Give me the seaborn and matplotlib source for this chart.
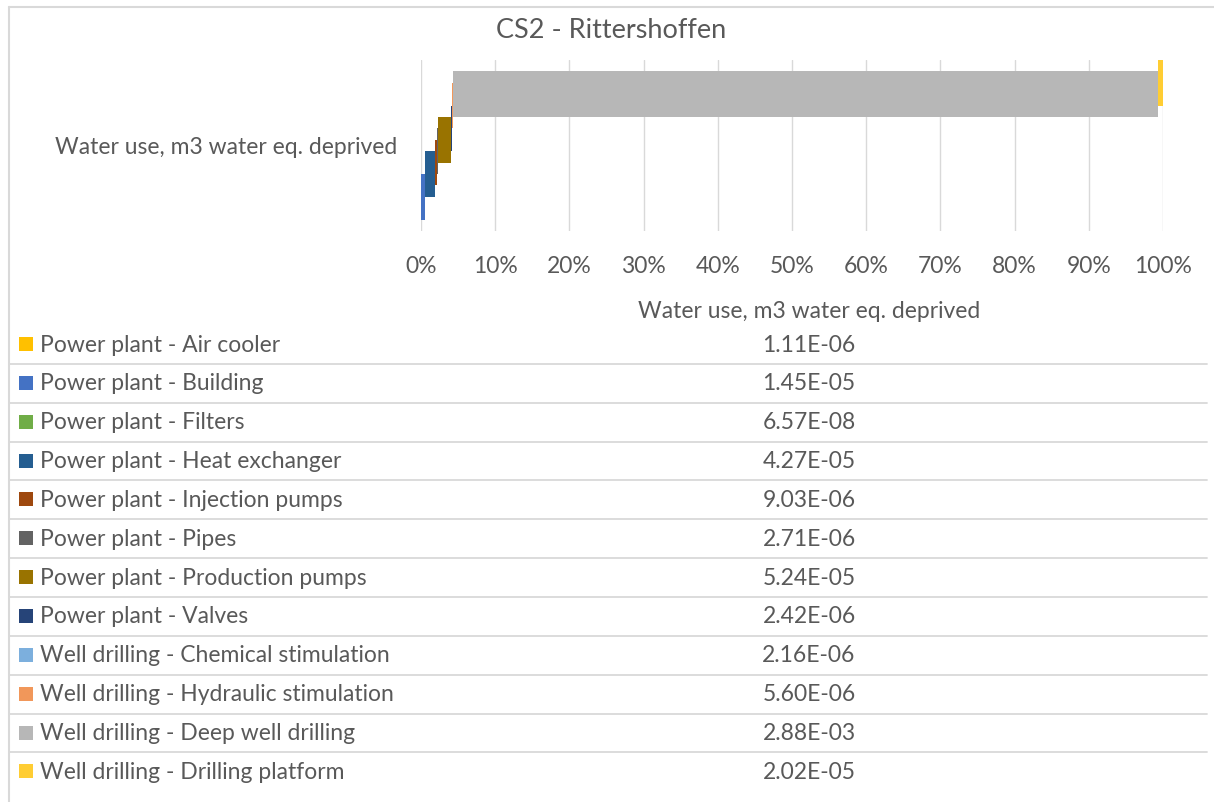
import numpy as np
import matplotlib
matplotlib.use("Agg")
import matplotlib.pyplot as plt
from matplotlib.lines import Line2D
from matplotlib.patches import Rectangle
import seaborn as sns

# Contributions to water use (m3 water eq. deprived), CS2 - Rittershoffen
processes = [
    "Power plant - Air cooler",
    "Power plant - Building",
    "Power plant - Filters",
    "Power plant - Heat exchanger",
    "Power plant - Injection pumps",
    "Power plant - Pipes",
    "Power plant - Production pumps",
    "Power plant - Valves",
    "Well drilling - Chemical stimulation",
    "Well drilling - Hydraulic stimulation",
    "Well drilling - Deep well drilling",
    "Well drilling - Drilling platform",
]
water_use = [1.11e-06, 1.45e-05, 6.57e-08, 4.27e-05, 9.03e-06, 2.71e-06,
             5.24e-05, 2.42e-06, 2.16e-06, 5.60e-06, 2.88e-03, 2.02e-05]
colors = ["#FFC000", "#4472C4", "#70AD47", "#255E91", "#9E480E", "#636363",
          "#997300", "#264478", "#7CAFDD", "#F1975A", "#B7B7B7", "#FFCD33"]
category = "Water use, m3 water eq. deprived"
title = "CS2 - Rittershoffen"
x_ticks = list(range(0, 101, 10))

sns.set_theme(style="white")
plt.rcParams["font.family"] = ["Lato", "DejaVu Sans"]

TEXT = "#595959"
GRID = "#D9D9D9"
FS = 16.5
W, H = 1214, 802

fig = plt.figure(figsize=(W / 100, H / 100), dpi=100)
fig.patch.set_facecolor("white")


def fx(px):
    return px / W


def fy(py):
    return 1 - py / H


ax = fig.add_axes([fx(421), fy(231), fx(1163) - fx(421), (231 - 60) / H])

vals = np.array(water_use)
share = vals / vals.sum() * 100
starts = np.cumsum(share) - share

# each series sits one step higher than the previous, overlapping by 75%
for i, (s, w, c) in enumerate(zip(starts, share, colors)):
    ax.barh(i, w, left=s, height=4, color=c, linewidth=0, zorder=3)

ax.set_xlim(0, 100)
ax.set_ylim(-2, len(processes) + 1)
ax.set_xticks(x_ticks)
ax.set_xticklabels([f"{t}%" for t in x_ticks], fontsize=FS, color=TEXT)
ax.set_yticks([(len(processes) - 1) / 2])
ax.set_yticklabels([category], fontsize=FS, color=TEXT)
ax.tick_params(axis="x", length=0, pad=18)
ax.tick_params(axis="y", length=0, pad=17)
ax.grid(axis="x", color=GRID, linewidth=1.0, zorder=0)
ax.grid(axis="y", visible=False)
for sp in ax.spines.values():
    sp.set_visible(False)
ax.set_facecolor("white")

# title
fig.text(fx(611), fy(31), title, ha="center", va="center", fontsize=19.5, color=TEXT)

# data table with legend keys
fig.text(fx(809), fy(311), category, ha="center", va="center", fontsize=FS, color=TEXT)
row0, step = 345, 38.85
for k, (name, v, c) in enumerate(zip(processes, water_use, colors)):
    yc = row0 + k * step
    fig.patches.append(Rectangle((fx(19), fy(yc + 6)), 14 / W, 14 / H,
                                 transform=fig.transFigure, color=c, linewidth=0))
    fig.text(fx(40), fy(yc), name, ha="left", va="center", fontsize=FS, color=TEXT)
    fig.text(fx(809), fy(yc), f"{v:.2E}", ha="center", va="center", fontsize=FS, color=TEXT)
    if k < len(processes) - 1:
        ys = yc + step / 2 - 0.5
        fig.add_artist(Line2D([fx(10), fx(1207)], [fy(ys), fy(ys)],
                              color=GRID, linewidth=1.3))

# chart frame
fig.add_artist(Line2D([fx(8.5), fx(8.5)], [fy(7), fy(H)], color=GRID, linewidth=1.5))
fig.add_artist(Line2D([fx(8.5), fx(W)], [fy(7), fy(7)], color=GRID, linewidth=1.5))

fig.savefig("out.png", dpi=100, facecolor="white")
